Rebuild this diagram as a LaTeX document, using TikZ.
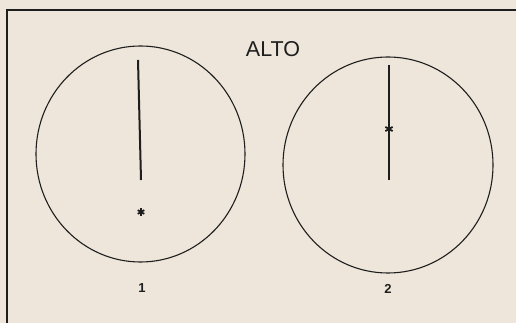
\documentclass[tikz,border=0pt]{standalone}
\usepackage{fontspec}
\setmainfont{Liberation Sans}
\usetikzlibrary{shapes.geometric,calc}
\definecolor{paper}{HTML}{EEE6DA}
\definecolor{ink}{HTML}{1E1E1E}
\tikzset{
  rim/.style={draw=ink, line width=1.1pt},
  needle/.style={draw=ink, line width=2pt},
  frame/.style={draw=ink, line width=1.5pt},
  star/.style={draw=ink, line width=1.8pt},
  numlabel/.style={font=\fontsize{13}{13}\selectfont\bfseries, text=ink, inner sep=0pt}
}
\begin{document}
\begin{tikzpicture}[x=1pt,y=1pt]
\fill[paper] (0,0) rectangle (516,323);
\useasboundingbox (0,0) rectangle (516,323);
% frame
\coordinate (fb) at (7,0);
\coordinate (fc) at (7,313);
\coordinate (fr) at (516,313);
\draw[frame] (fb) -- (fc) -- (fr);
% title
\node[font=\fontsize{21.5}{21.5}\selectfont, text=ink, inner sep=0pt] (title) at (273,274) {ALTO};
% circle 1
\node[ellipse, rim, minimum width=209pt, minimum height=216pt, inner sep=0pt] (c1) at (140.5,169) {};
\coordinate (n1t) at (138,263);
\coordinate (n1b) at (141,143);
\draw[needle] (n1t) -- (n1b);
\coordinate (s1) at (141,111);
\draw[star] ($(s1)+(0,3.8)$) -- ($(s1)+(0,-3.8)$)
  ($(s1)+(30:3.8)$) -- ($(s1)+(210:3.8)$)
  ($(s1)+(150:3.8)$) -- ($(s1)+(330:3.8)$);
\node[numlabel] (l1) at (142,34.5) {1};
% circle 2
\node[ellipse, rim, minimum width=210pt, minimum height=216pt, inner sep=0pt] (c2) at (388,158) {};
\coordinate (n2t) at (389,258);
\coordinate (n2b) at (389,143);
\draw[needle] (n2t) -- (n2b);
\coordinate (s2) at (389,194);
\draw[star] ($(s2)+(0,4.2)$) -- ($(s2)+(0,-4.2)$)
  ($(s2)+(30:4.2)$) -- ($(s2)+(210:4.2)$)
  ($(s2)+(150:4.2)$) -- ($(s2)+(330:4.2)$);
\node[numlabel] (l2) at (388,34) {2};
\end{tikzpicture}
\end{document}
